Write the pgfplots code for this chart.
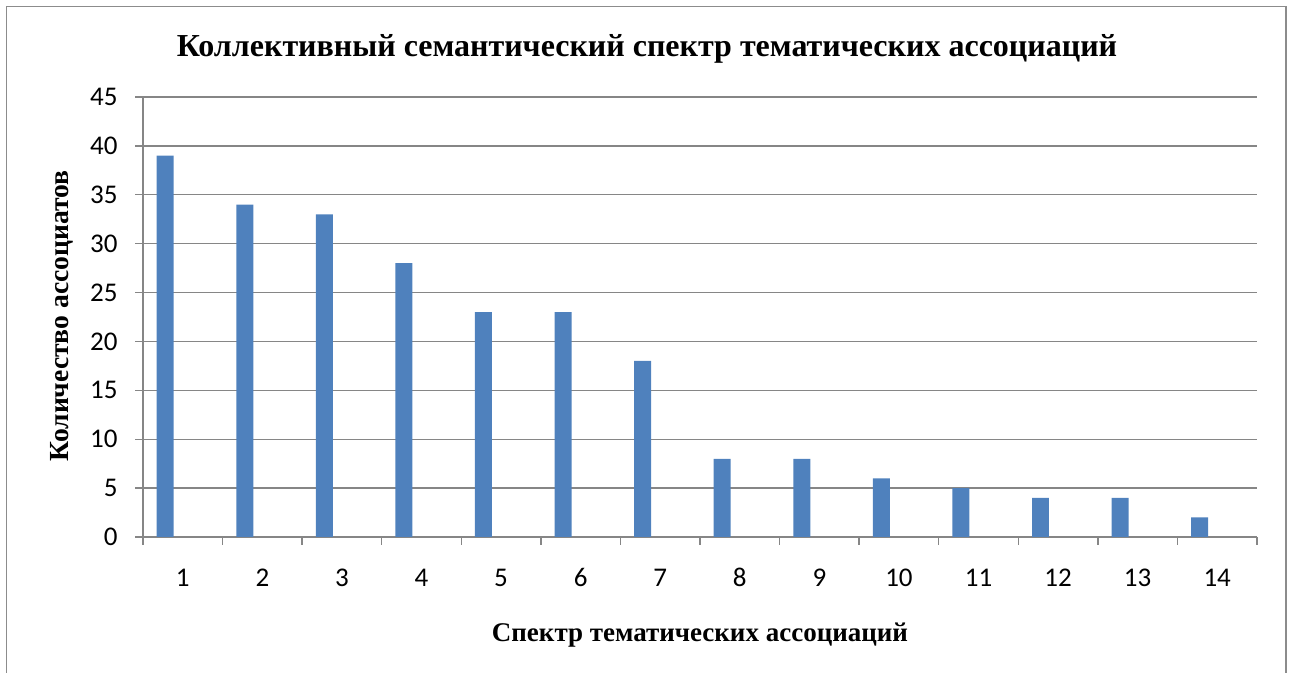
\documentclass[border=0pt]{standalone}
\usepackage{pgfplots}
\pgfplotsset{compat=1.18}
\usepackage{fontspec}
\setmainfont{Liberation Serif}
\newfontfamily\tickfont{Carlito}
\definecolor{barblue}{RGB}{79,129,189}
\definecolor{gridgray}{RGB}{134,134,134}
\definecolor{framegray}{RGB}{140,140,140}
\begin{document}
\begin{tikzpicture}
\useasboundingbox (0,0) rectangle (647pt,336.5pt);
\draw[framegray, line width=0.8pt] (3.25pt,-5pt) -- (3.25pt,333.25pt) -- (643pt,333.25pt) -- (643pt,-5pt);
\begin{axis}[
  at={(71.5pt,68pt)}, anchor=south west,
  scale only axis, width=557pt, height=220pt,
  xmin=0.5, xmax=14.5, ymin=0, ymax=45,
  axis lines*=left,
  axis line style={gridgray, line width=0.7pt},
  ymajorgrids, major grid style={gridgray, line width=0.7pt},
  xtick={1,...,14},
  xticklabels={1,2,3,4,5,6,7,8,9,10,11,12,13,14},
  minor xtick={0.5,1.5,...,14.5},
  ytick={0,5,...,45},
  yticklabels={0,5,10,15,20,25,30,35,40,45},
  tick align=outside,
  major tick length=4pt, minor tick length=4pt,
  x tick style={draw=none},
  minor x tick style={draw=gridgray, line width=0.7pt},
  y tick style={gridgray, line width=0.7pt},
  tick label style={font=\tickfont\fontsize{13.5}{16}\selectfont, inner sep=0pt},
  xticklabel style={anchor=base, yshift=-21pt},
  yticklabel style={anchor=east, xshift=-8.5pt},
  clip=false,
]
\addplot[ybar, fill=barblue, draw=none, bar width=0.2136, bar shift=-0.221]
coordinates {(1,39) (2,34) (3,33) (4,28) (5,23) (6,23) (7,18) (8,8) (9,8) (10,6) (11,5) (12,4) (13,4) (14,2)};
\end{axis}
\node[anchor=base, font=\bfseries\fontsize{16}{19}\selectfont, inner sep=0pt] at (323.5pt,308pt) {Коллективный семантический спектр тематических ассоциаций};
\node[anchor=base, font=\bfseries\fontsize{13.5}{16}\selectfont, inner sep=0pt] at (350pt,15.5pt) {Спектр тематических ассоциаций};
\node[anchor=base, rotate=90, font=\bfseries\fontsize{13.8}{16}\selectfont, inner sep=0pt] at (34pt,178.5pt) {Количество ассоциатов};
\end{tikzpicture}
\end{document}
